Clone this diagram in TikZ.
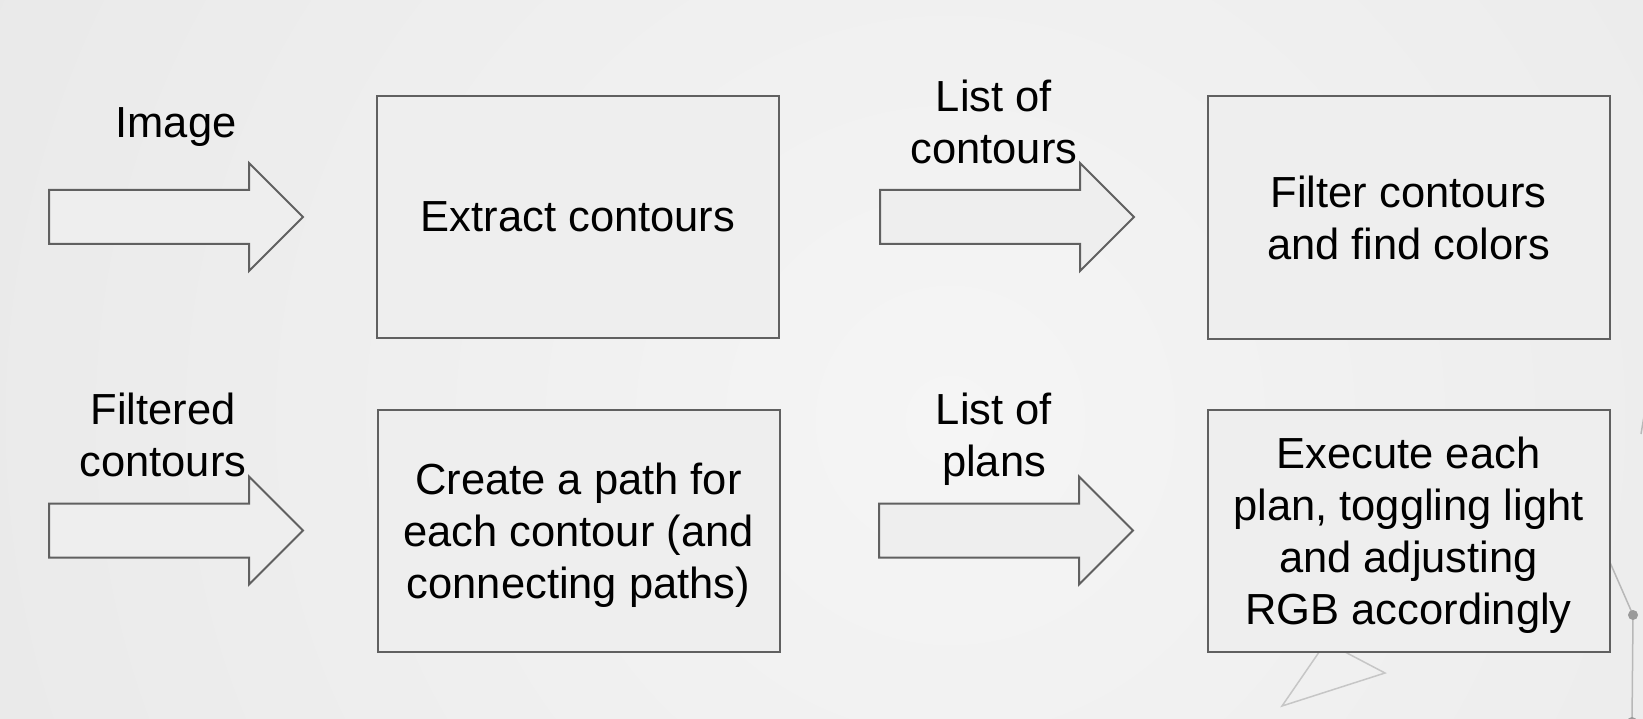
\documentclass[tikz,border=0pt]{standalone}
\usepackage{fontspec}
\setmainfont{Liberation Sans}
\usetikzlibrary{shapes.arrows}
\definecolor{bgin}{HTML}{F5F5F5}
\definecolor{bgout}{HTML}{E1E1E1}
\definecolor{boxfill}{HTML}{EEEEEE}
\definecolor{edgec}{HTML}{606060}
\definecolor{decoc}{HTML}{C6C6C6}
\definecolor{rlinec}{HTML}{B8B8B8}
\definecolor{dotc}{HTML}{9A9A9A}
\newcommand{\bigfont}{\fontsize{43.5pt}{52pt}\selectfont}
\tikzset{
  stepbox/.style={draw=edgec, line width=2pt, fill=boxfill, minimum width=402pt,
    minimum height=242pt, align=center, inner sep=0pt, text depth=0pt, font=\bigfont},
  flowarrow/.style={single arrow, draw=edgec, line width=2pt, fill=boxfill,
    minimum height=254pt, single arrow head extend=27pt, single arrow tip angle=90,
    inner xsep=0pt, inner ysep=26pt, outer sep=0pt, anchor=tail},
  lbl/.style={align=center, inner sep=0pt, anchor=base, font=\bigfont},
  decoline/.style={draw=decoc, line width=1.5pt},
  rline/.style={draw=rlinec, line width=1.5pt}
}
\begin{document}
\begin{tikzpicture}[x=1pt, y=-1pt]
\useasboundingbox (0,0) rectangle (1643,719);
\begin{scope}
  \clip (0,0) rectangle (1643,719);
  \shade[inner color=bgin, outer color=bgout] (950,420) circle (1800);
\end{scope}
% decorations
\coordinate (ta) at (1282,706);
\coordinate (tb) at (1326,642);
\coordinate (tc) at (1385,673);
\draw[decoline] (ta) -- (tb) -- (tc) -- cycle;
\coordinate (ra) at (1591,519);
\coordinate (rb) at (1633,615);
\coordinate (rc) at (1632,722);
\draw[rline] (ra) -- (rb) -- (rc);
\coordinate (rd) at (1644,416);
\coordinate (re) at (1641,434);
\draw[rline] (rd) -- (re);
\fill[dotc] (rb) circle (5);
\fill[dotc] (rc) circle (5);
% boxes
\node[stepbox] (extract) at (578,217) {Extract contours};
\node[stepbox] (filter) at (1408.5,217.5) {Filter contours\\and find colors};
\node[stepbox] (create) at (578.5,530.5) {Create a path for\\each contour (and\\connecting paths)};
\node[stepbox] (execute) at (1408.5,530.5) {Execute each\\plan, toggling light\\and adjusting\\RGB accordingly};
% arrows
\node[flowarrow] (a1) at (49,217) {};
\node[flowarrow] (a2) at (880,217) {};
\node[flowarrow] (a3) at (49,530.5) {};
\node[flowarrow] (a4) at (879,530.5) {};
% labels
\node[lbl] (limg) at (176,138) {Image};
\node[lbl] (llc) at (994,164) {List of\\contours};
\node[lbl] (lfc) at (163,476) {Filtered\\contours};
\node[lbl] (llp) at (994,476) {List of\\plans};
\end{tikzpicture}
\end{document}
